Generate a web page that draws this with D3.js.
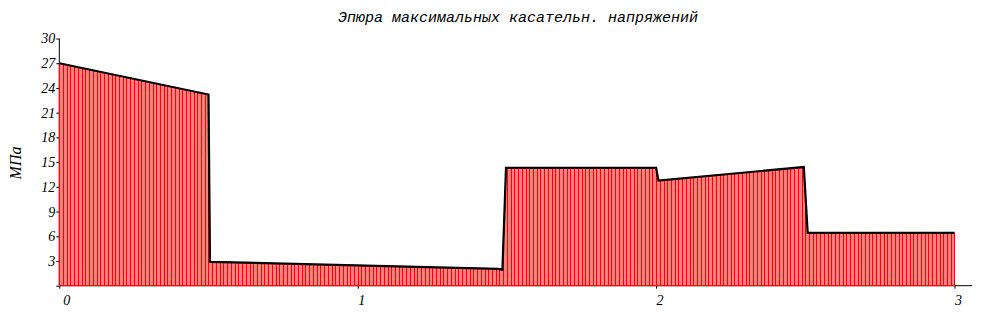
<!DOCTYPE html>
<html><head><meta charset="utf-8">
<script src="https://cdn.jsdelivr.net/npm/d3@7"></script>
<style>body{margin:0;background:#fff}svg{display:block}</style>
</head><body>
<script>
const title = "Эпюра максимальных касательн. напряжений";
const yLabel = "МПа";
const xs = [0, 0.5, 0.505, 1.47, 1.485, 1.497, 2.0, 2.008, 2.495, 2.508, 3.0];
const ys = [27.0, 23.2, 2.9, 2.05, 1.95, 14.3, 14.3, 12.75, 14.4, 6.4, 6.4];
const xTicks = [0, 1, 2, 3];
const yTicks = [0, 3, 6, 9, 12, 15, 18, 21, 24, 27, 30];
const stripeStep = 1 / 80;

const W = 990, H = 323;
const svg = d3.select("body").append("svg").attr("width", W).attr("height", H);
const x = d3.scaleLinear().domain([0, 3]).range([59.3, 954.5]);
const y = d3.scaleLinear().domain([0, 30]).range([285.7, 38.5]);
const pts = xs.map((v, i) => [v, ys[i]]);
const area = d3.area().x(d => x(d[0])).y0(y(0)).y1(d => y(d[1]));

const defs = svg.append("defs");
defs.append("clipPath").attr("id", "clipA").append("path").datum(pts).attr("d", area);

// axes
const ax = svg.append("g").attr("transform", `translate(0,${y(0)})`)
  .call(d3.axisBottom(x).tickValues(xTicks).tickSize(3).tickFormat(d3.format("d")));
ax.select(".domain").attr("d", `M${x(0)},0H972`).attr("stroke", "#000");
ax.selectAll("text").attr("text-anchor", "start").attr("dx", d => d === 0 ? 3.5 : 0)
  .attr("y", 9).attr("dy", "0.71em")
  .style("font-family", "'Liberation Serif', serif").style("font-style", "italic").style("font-size", "14px");

const ay = svg.append("g").attr("transform", `translate(${x(0)},0)`)
  .call(d3.axisLeft(y).tickValues(yTicks).tickSize(3).tickPadding(1).tickFormat(d => d === 0 ? "" : d));
ay.select(".domain").attr("d", `M0,${y(0)}V${y(30)}`).attr("stroke", "#000");
ay.selectAll("text").style("font-family", "'Liberation Serif', serif").style("font-style", "italic").style("font-size", "14px");

// area with stripes
svg.append("path").datum(pts).attr("d", area).attr("fill", "#ff8080").attr("stroke", "#ff0000").attr("stroke-width", 1);
svg.append("g").attr("clip-path", "url(#clipA)")
  .selectAll("line").data(d3.range(0, 3 + 1e-9, stripeStep)).join("line")
  .attr("x1", d => Math.round(x(d)) + 0.5).attr("x2", d => Math.round(x(d)) + 0.5)
  .attr("y1", y(0)).attr("y2", y(30))
  .attr("stroke", "#ff0000").attr("stroke-width", 1).attr("shape-rendering", "crispEdges");
const line = d3.line().x(d => x(d[0])).y(d => y(d[1]));
svg.append("path").datum(pts).attr("d", line).attr("fill", "none").attr("stroke", "#000").attr("stroke-width", 2.2);

// title
svg.append("text").attr("x", 518).attr("y", 22).attr("text-anchor", "middle")
  .style("font-family", "'Liberation Mono', monospace").style("font-style", "italic").style("font-size", "15px")
  .text(title);
svg.append("text").attr("transform", "translate(21,163) rotate(-90)").attr("text-anchor", "middle")
  .style("font-family", "'Liberation Serif', serif").style("font-style", "italic").style("font-size", "16px")
  .text(yLabel);
</script>
</body></html>
